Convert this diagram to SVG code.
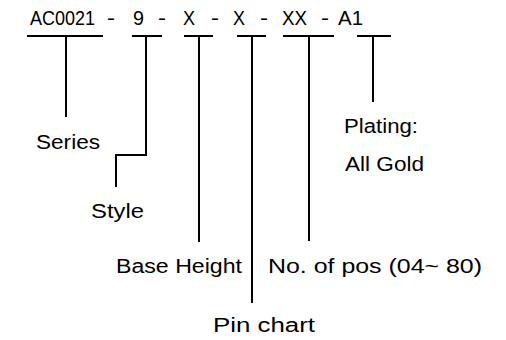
<svg xmlns="http://www.w3.org/2000/svg" width="506" height="340" viewBox="0 0 506 340">
<style>
text{font-family:"Liberation Sans","DejaVu Sans",sans-serif;font-size:20px;fill:#000}
.ln{stroke:#000;stroke-width:2;fill:none}
</style>
<rect width="506" height="340" fill="#fff"/>
<g id="code">
<text x="30" y="25" textLength="65" lengthAdjust="spacingAndGlyphs">AC0021</text>
<text x="107" y="25" textLength="8" lengthAdjust="spacingAndGlyphs">-</text>
<text x="133" y="25" textLength="11" lengthAdjust="spacingAndGlyphs">9</text>
<text x="158" y="25" textLength="8" lengthAdjust="spacingAndGlyphs">-</text>
<text x="183" y="25" textLength="12" lengthAdjust="spacingAndGlyphs">X</text>
<text x="211" y="25" textLength="8" lengthAdjust="spacingAndGlyphs">-</text>
<text x="233" y="25" textLength="12" lengthAdjust="spacingAndGlyphs">X</text>
<text x="260" y="25" textLength="8" lengthAdjust="spacingAndGlyphs">-</text>
<text x="282" y="25" textLength="25" lengthAdjust="spacingAndGlyphs">XX</text>
<text x="321" y="25" textLength="8" lengthAdjust="spacingAndGlyphs">-</text>
<text x="338" y="25" textLength="25" lengthAdjust="spacingAndGlyphs">A1</text>
</g>
<g id="connectors">
<path class="ln" d="M27 36H103M132 36H162M184 36H213M237 36H266M283 36H334M357 36H391"/>
<path class="ln" d="M66 36V117"/>
<path class="ln" d="M146 36V155H116V187"/>
<path class="ln" d="M199 36V242"/>
<path class="ln" d="M252 36V303"/>
<path class="ln" d="M309 36V241"/>
<path class="ln" d="M373 36V102"/>
</g>
<g id="series"><text x="36" y="149" textLength="64" lengthAdjust="spacingAndGlyphs">Series</text></g>
<g id="style"><text x="91" y="218" textLength="53" lengthAdjust="spacingAndGlyphs">Style</text></g>
<g id="base-height"><text x="116" y="273" textLength="126" lengthAdjust="spacingAndGlyphs">Base Height</text></g>
<g id="no-of-pos"><text x="268" y="273" textLength="214" lengthAdjust="spacingAndGlyphs">No. of pos (04~ 80)</text></g>
<g id="pin-chart"><text x="213" y="332" textLength="102" lengthAdjust="spacingAndGlyphs">Pin chart</text></g>
<g id="plating"><text x="344" y="133" textLength="74" lengthAdjust="spacingAndGlyphs">Plating:</text><text x="345" y="171" textLength="79" lengthAdjust="spacingAndGlyphs">All Gold</text></g>
</svg>
